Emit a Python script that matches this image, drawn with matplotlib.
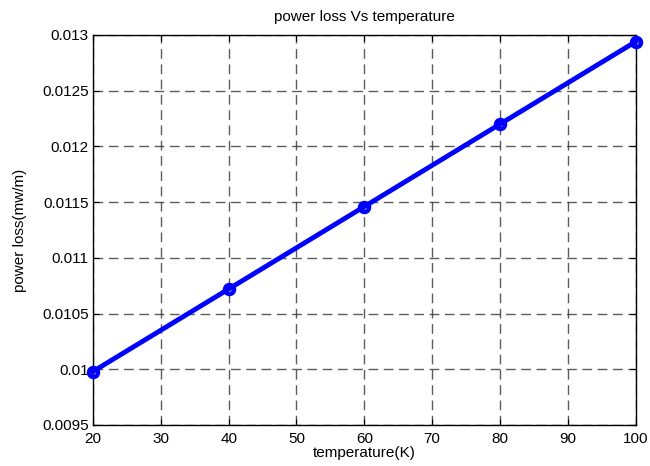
import matplotlib
matplotlib.use('Agg')
import matplotlib.pyplot as plt

plt.rcParams['font.family'] = ['Liberation Sans', 'DejaVu Sans']

temperature = [20, 40, 60, 80, 100]
power_loss = [0.00998, 0.01072, 0.01146, 0.01220, 0.01294]

x_ticks = [20, 30, 40, 50, 60, 70, 80, 90, 100]
y_ticks = [0.0095, 0.01, 0.0105, 0.011, 0.0115, 0.012, 0.0125, 0.013]
y_labels = ['0.0095', '0.01', '0.0105', '0.011', '0.0115', '0.012', '0.0125', '0.013']

fig = plt.figure(figsize=(6.5, 4.66), dpi=100)
ax = fig.add_axes([0.143, 0.088, 0.835, 0.837])

ax.plot(temperature, power_loss, color='blue', linewidth=3.5,
        marker='o', markersize=6.5, markerfacecolor='none',
        markeredgecolor='blue', markeredgewidth=3.2, clip_on=False, zorder=3)

ax.set_xlim(20, 100)
ax.set_ylim(0.0095, 0.013)
ax.set_xticks(x_ticks)
ax.set_yticks(y_ticks)
ax.set_yticklabels(y_labels)
ax.tick_params(direction='in', top=True, right=True, labelsize=11, length=4)
ax.tick_params(axis='x', pad=5)
ax.tick_params(axis='y', pad=3)

ax.grid(True, color='#333333', linestyle=(0, (7, 4)), linewidth=1.0, alpha=0.8)
for s in ax.spines.values():
    s.set_linewidth(1.0)

ax.set_title('power loss Vs temperature', fontsize=11, pad=10)
ax.set_xlabel('temperature(K)', fontsize=11, labelpad=0)
ax.set_ylabel('power loss(mw/m)', fontsize=11, labelpad=11)

plt.savefig('out.png', dpi=100)
